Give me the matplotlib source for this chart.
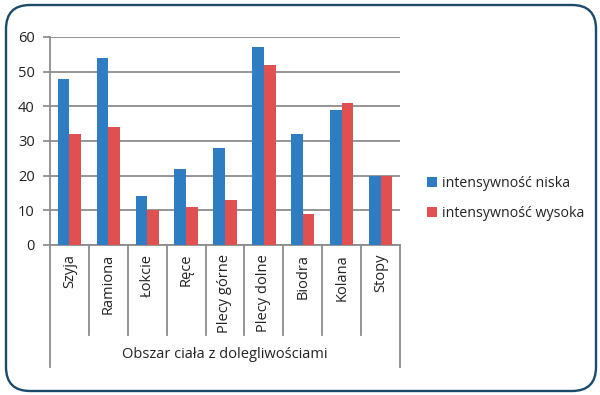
import matplotlib
matplotlib.use("Agg")
import matplotlib.pyplot as plt
import numpy as np
from matplotlib.patches import FancyBboxPatch

categories = ["Szyja", "Ramiona", "Łokcie", "Ręce", "Plecy górne", "Plecy dolne", "Biodra", "Kolana", "Stopy"]
niska = [48, 54, 14, 22, 28, 57, 32, 39, 20]
wysoka = [32, 34, 10, 11, 13, 52, 9, 41, 20]
series_names = ["intensywność niska", "intensywność wysoka"]
y_ticks = [0, 10, 20, 30, 40, 50, 60]
x_title = "Obszar ciała z dolegliwościami"

plt.rcParams['font.family'] = ['Open Sans', 'DejaVu Sans']

W, H = 600, 395
fig = plt.figure(figsize=(W/100, H/100), dpi=100)
fig.patch.set_facecolor("white")

# rounded border
border = FancyBboxPatch((6/W, 4/H), 590/W, 386/H,
                        boxstyle="round,pad=0,rounding_size=0.04",
                        transform=fig.transFigure, facecolor="none",
                        edgecolor="#1B4A6B", linewidth=1.7, mutation_aspect=W/H,
                        zorder=-1)
fig.patches.append(border)

ax = fig.add_axes([50/W, 1-245/H, 350/W, (245-37)/H])
ax.set_facecolor("none")

x = np.arange(len(categories))
bw = 0.3
blue = "#2E7DC2"
red = "#E05050"
ax.bar(x - bw/2, niska, bw, color=blue, label=series_names[0], zorder=3)
ax.bar(x + bw/2, wysoka, bw, color=red, label=series_names[1], zorder=3)

ax.set_xlim(-0.5, len(categories) - 0.5)
ax.set_ylim(0, 60)
ax.set_yticks(y_ticks)
ax.tick_params(axis='y', length=5, color="#888888", width=1.2, labelsize=10.5, labelcolor="#222222", pad=6)
ax.yaxis.grid(True, color="#8C8C8C", linewidth=1.3, zorder=0)
ax.set_axisbelow(True)
ax.set_xticks([])
for s in ["top", "right"]:
    ax.spines[s].set_visible(False)
for s in ["left", "bottom"]:
    ax.spines[s].set_color("#8C8C8C")
    ax.spines[s].set_linewidth(1.3)

# category axis: dividers and labels
trans = ax.get_xaxis_transform()
axh = (245-37)
def yfrac(py):
    return -(py - 245) / axh

for b in np.arange(-0.5, len(categories), 1.0):
    bottom = 367 if b in (-0.5, len(categories) - 0.5) else 335
    ax.plot([b, b], [0, yfrac(bottom)], transform=trans, color="#8C8C8C",
            linewidth=1.3, clip_on=False, zorder=1)
for i, c in enumerate(categories):
    ax.text(i, yfrac(254), c, transform=trans, rotation=90, ha="center", va="top",
            fontsize=10.5, color="#222222")
ax.text((len(categories) - 1) / 2, yfrac(355), x_title, transform=trans,
        ha="center", va="center", fontsize=10.5, color="#222222")

leg = fig.legend(loc="upper left", bbox_to_anchor=(421/W, 1-170/H), frameon=False,
                 fontsize=10.2, handlelength=0.7, handleheight=0.7, handletextpad=0.4,
                 labelspacing=1.05, borderaxespad=0)
for t in leg.get_texts():
    t.set_color("#222222")

fig.savefig("out.png", dpi=100)
